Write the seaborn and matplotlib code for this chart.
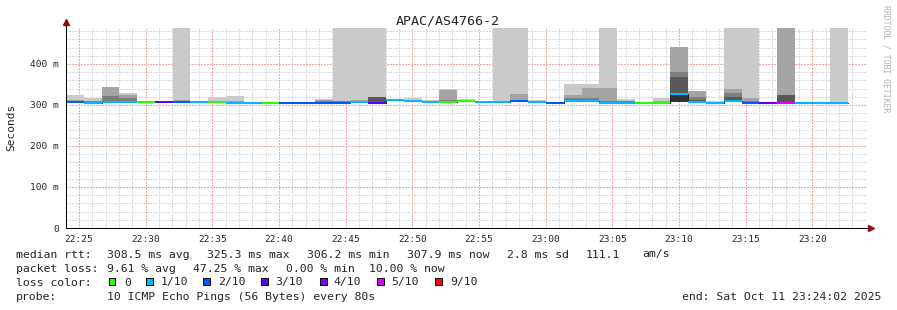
import matplotlib
matplotlib.use("Agg")
import matplotlib.pyplot as plt
from matplotlib.patches import Rectangle
import numpy as np
import pandas as pd
import seaborn as sns

# ---------------- data ----------------
title = "APAC/AS4766-2"
step_s = 80                      # probe step (seconds)
window_min = 60                  # 22:24:02 .. 23:24:02
x_tick_labels = ["22:25", "22:30", "22:35", "22:40", "22:45", "22:50",
                 "22:55", "23:00", "23:05", "23:10", "23:15", "23:20"]
x_tick_first_min = 58 / 60       # 22:25:00 relative to 22:24:02
y_tick_values = [0, 100, 200, 300, 400]
y_tick_labels = ["0", "100 m", "200 m", "300 m", "400 m"]

# median rtt per 80 s bin (ms)
median_ms = [307, 306, 307, 307, 307, 307, 307, 307, 307, 306,
             306, 306, 305, 305, 306, 306, 308, 305, 311, 310,
             308, 308, 309, 308, 308, 310, 308, 306, 309, 310,
             306, 306, 306, 306, 326, 308, 306, 309, 306, 306,
             305, 306, 306, 306]
# lost pings out of 10 per bin
loss = [2, 1, 1, 1, 0, 3, 2, 1, 0, 1,
        1, 0, 2, 2, 2, 2, 1, 3, 1, 1,
        1, 0, 0, 1, 1, 2, 1, 2, 1, 1,
        1, 1, 0, 0, 1, 1, 1, 1, 2, 3,
        5, 1, 1, 1]
# fastest ping per bin (ms)
ping_low = [305, 304, 305, 305, 305, 305, 305, 305, 305, 304,
            304, 304, 303, 303, 304, 304, 306, 303, 309, 308,
            306, 306, 307, 306, 306, 308, 306, 304, 307, 308,
            304, 304, 304, 304, 307, 306, 304, 307, 304, 304,
            303, 304, 304, 304]
# upper sorted pings p5..p10 per bin (ms); 600 = off the chart
ping_high = [
    [308, 309, 310, 311, 324], [307, 308, 309, 310, 317], [308, 310, 321, 344, 345],
    [308, 310, 317, 324, 329], [308, 308, 309, 309, 309], [308, 308, 309, 309, 309],
    [308, 309, 310, 311, 600], [308, 308, 309, 309, 310], [308, 309, 309, 310, 319],
    [307, 308, 308, 309, 321], [307, 307, 308, 308, 308], [307, 307, 308, 308, 308],
    [306, 306, 307, 307, 308], [306, 306, 307, 307, 308], [307, 308, 309, 313, 315],
    [307, 308, 309, 310, 600], [309, 310, 310, 311, 600], [306, 320, 320, 320, 600],
    [312, 312, 313, 313, 313], [311, 311, 312, 312, 316], [309, 309, 310, 310, 312],
    [309, 310, 311, 336, 338], [310, 310, 311, 312, 315], [309, 309, 310, 310, 310],
    [309, 309, 310, 310, 600], [311, 312, 313, 328, 600], [309, 309, 310, 310, 313],
    [307, 307, 308, 308, 308], [310, 312, 318, 324, 352], [311, 313, 316, 341, 352],
    [307, 308, 310, 342, 600], [307, 308, 309, 310, 315], [307, 307, 308, 308, 308],
    [307, 308, 308, 309, 317], [326, 369, 380, 442, 442], [309, 312, 320, 333, 334],
    [307, 307, 308, 308, 310], [310, 320, 329, 338, 600], [307, 308, 310, 316, 600],
    [306, 306, 307, 307, 308], [306, 324, 325, 600, 600], [307, 307, 308, 308, 308],
    [306, 306, 307, 307, 307], [307, 307, 308, 308, 600],
]

loss_colors = {0: "#26ff00", 1: "#00b8ff", 2: "#0059ff", 3: "#5e00ff",
               4: "#7e00ff", 5: "#dd00ff", 9: "#ff0000"}
legend_labels = ["0", "1/10", "2/10", "3/10", "4/10", "5/10", "9/10"]
legend_keys = [0, 1, 2, 3, 4, 5, 9]

stats_rtt = ["308.5 ms avg", "325.3 ms max", "306.2 ms min", "307.9 ms now",
             "2.8 ms sd", "111.1", "am/s"]
stats_loss = ["9.61 % avg", "47.25 % max", "0.00 % min", "10.00 % now"]
probe_text = "10 ICMP Echo Pings (56 Bytes) every 80s"
end_text = "end: Sat Oct 11 23:24:02 2025"

# ---------------- style ----------------
sns.set_theme(style="white")
plt.rcParams["font.family"] = ["DejaVu Sans Mono", "DejaVu Sans"]

W, H = 897, 310
fig = plt.figure(figsize=(W / 100, H / 100), dpi=100)
top_px, bot_px, left_px, right_px = 27.5, 228, 66, 866
ax = fig.add_axes([left_px / W, (H - bot_px) / H,
                   (right_px - left_px) / W, (bot_px - top_px) / H])
ymax = 489
ax.set_xlim(0, window_min)
ax.set_ylim(0, ymax)
for s in ax.spines.values():
    s.set_visible(False)

px = 0.72  # one pixel in points

# grid
minor_x = np.arange(x_tick_first_min - 0, window_min, 1.0)
major_x = x_tick_first_min + 5 * np.arange(len(x_tick_labels))
dash = (0, (1.4, 1.4))
minor_col = "#d9d9d9"
major_col = "#f3a8a8"
ax.vlines([m for m in minor_x if not np.any(np.isclose(m, major_x))], 0, ymax,
          colors=minor_col, lw=px, linestyles=dash, zorder=0.5, antialiased=False)
minor_y = [v for v in range(20, ymax, 20) if v % 100 != 0]
ax.hlines(minor_y, 0, window_min, colors=minor_col, lw=px, linestyles=dash,
          zorder=0.5, antialiased=False)
ax.vlines(major_x, 0, ymax, colors=major_col, lw=px, linestyles=dash,
          zorder=0.6, antialiased=False)
ax.hlines(y_tick_values[1:], 0, window_min, colors=major_col, lw=px,
          linestyles=dash, zorder=0.6, antialiased=False)

# smoke
n = len(median_ms)
step_min = step_s / 60
x0 = np.arange(n) * step_min
low = np.array(ping_low, float)
high = np.array(ping_high, float)
for k in range(5):
    shade = int(190 / 5 * (5 - (k + 1))) + 50
    col = "#%02x%02x%02x" % (shade, shade, shade)
    top = np.minimum(high[:, 4 - k], ymax + 20)
    ax.bar(x0, top - low, bottom=low, width=step_min, align="edge",
           color=col, linewidth=0, antialiased=False, zorder=2 + k * 0.01)

# median: dark step line, then loss-coloured segments
df = pd.DataFrame({"t": np.append(x0, x0[-1] + step_min),
                   "median": np.append(median_ms, median_ms[-1])})
sns.lineplot(data=df, x="t", y="median", drawstyle="steps-post", color="#202020",
             lw=px, estimator=None, sort=False, ax=ax, zorder=3)
for i in range(n):
    ax.hlines(median_ms[i], x0[i], x0[i] + step_min, colors=loss_colors[loss[i]],
              lw=2 * px, zorder=4, capstyle="butt")
ax.set_xlabel("")
ax.set_ylabel("")

# axes lines with arrows
arrow_col = "#8b1010"
ax.plot([0, window_min + 0.3], [0, 0], color="black", lw=px, clip_on=False, zorder=6)
ax.plot([0, 0], [0, ymax + 10], color="black", lw=px, clip_on=False, zorder=6)
ax.plot(window_min + 0.35, 0, marker=">", ms=4.2, color=arrow_col, mec=arrow_col,
        clip_on=False, zorder=7)
ax.plot(0, ymax + 14, marker="^", ms=4.2, color=arrow_col, mec=arrow_col,
        clip_on=False, zorder=7)

# ticks
ax.set_xticks(major_x)
ax.set_xticklabels(x_tick_labels)
ax.set_yticks(y_tick_values)
ax.set_yticklabels(y_tick_labels)
ax.tick_params(axis="both", which="major", length=2, width=px, color="black",
               labelsize=6.8, direction="out")
ax.tick_params(axis="x", pad=2.8)
ax.tick_params(axis="y", pad=3.0)

# texts
def fx(x):
    return x / W

def fy(y):
    return 1 - y / H

fs = 8.25
fig.text(fx(448), fy(24), title, ha="center", va="baseline", fontsize=9.6)
fig.text(fx(11), fy(127), "Seconds", rotation=90, ha="center", va="center",
         fontsize=8.0)
fig.text(fx(886), fy(5), "RRDTOOL / TOBI OETIKER", rotation=270, ha="center",
         va="top", fontsize=5.9, color="#b4b4b4")

rows = [257.5, 271.5, 285.5, 299.5]
fig.text(fx(16), fy(rows[0]), "median rtt:", fontsize=fs, va="baseline")
for xpos, t in zip([107.3, 207.3, 307.3, 407.3, 507.3, 586, 642.7], stats_rtt):
    fig.text(fx(xpos), fy(rows[0]), t, fontsize=fs, va="baseline")
fig.text(fx(16), fy(rows[1]), "packet loss:", fontsize=fs, va="baseline")
for xpos, t in zip([107, 192.7, 286, 369], stats_loss):
    fig.text(fx(xpos), fy(rows[1]), t, fontsize=fs, va="baseline")
fig.text(fx(16), fy(rows[2]), "loss color:", fontsize=fs, va="baseline")
box_x = [108.5, 146, 203.3, 260.7, 320, 377.3, 435.3]
lab_x = [124, 160.7, 218, 275.3, 333.3, 391.7, 450]
for bx, lx, key, lab in zip(box_x, lab_x, legend_keys, legend_labels):
    fig.patches.append(Rectangle((fx(bx), fy(285.3)), 6.8 / W, 7.0 / H,
                                 transform=fig.transFigure, facecolor=loss_colors[key],
                                 edgecolor="black", lw=px))
    fig.text(fx(lx), fy(rows[2]), lab, fontsize=fs, va="baseline")
fig.text(fx(16), fy(rows[3]), "probe:", fontsize=fs, va="baseline")
fig.text(fx(107), fy(rows[3]), probe_text, fontsize=fs, va="baseline")
fig.text(fx(881), fy(rows[3]), end_text, fontsize=fs, va="baseline", ha="right")

fig.savefig("out.png", dpi=100, facecolor="white")
